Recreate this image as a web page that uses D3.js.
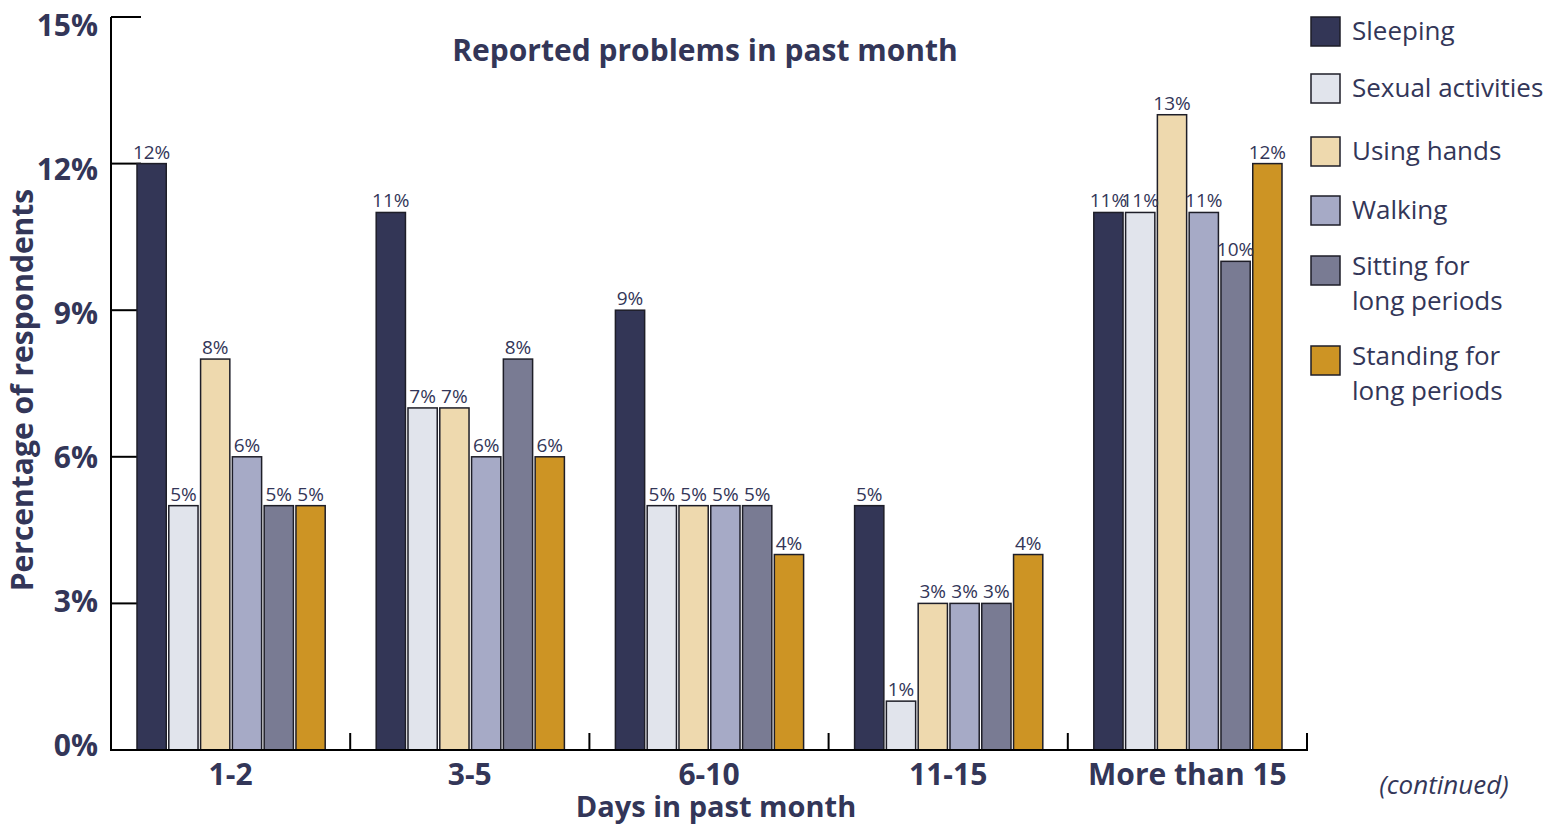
<!DOCTYPE html>
<html>
<head>
<meta charset="utf-8">
<script src="https://cdn.jsdelivr.net/npm/d3@7"></script>
<style>
  body { margin: 0; background: #fff; }
  svg { display: block; font-family: "Open Sans", sans-serif; }
</style>
</head>
<body>
<svg id="chart" width="1560" height="824"></svg>
<script>
// categories on the x axis
var categories = ["1-2", "3-5", "6-10", "11-15", "More than 15"];
// legend series
var series = ["Sleeping", "Sexual activities", "Using hands", "Walking", "Sitting for long periods", "Standing for long periods"];
var seriesLines = [["Sleeping"], ["Sexual activities"], ["Using hands"], ["Walking"], ["Sitting for", "long periods"], ["Standing for", "long periods"]];
var colors = ["#333656", "#e1e4ec", "#eed9ae", "#a6aac6", "#797b93", "#cd9424"];
// values per series (percent), one per category
var sleeping = [12, 11, 9, 5, 11];
var sexual = [5, 7, 5, 1, 11];
var hands = [8, 7, 5, 3, 13];
var walking = [6, 6, 5, 3, 11];
var sitting = [5, 8, 5, 3, 10];
var standing = [5, 6, 4, 4, 12];
var yTicks = [0, 3, 6, 9, 12, 15];

var values = [sleeping, sexual, hands, walking, sitting, standing];
var ink = "#333658";

var svg = d3.select("#chart");

var x0 = d3.scaleBand().domain(categories).range([111, 1307]);
var x1 = d3.scaleBand().domain(series).range([26, x0.bandwidth() - 25]).paddingInner(0.08);
var y = d3.scaleLinear().domain([0, 15]).range([750, 17]);
// tick labels sit slightly inside the axis ends
var yLab = d3.scaleLinear().domain([0, 15]).range([745, 25]);

// y ticks, drawn inward, under the bars
svg.append("g").selectAll("line")
  .data(yTicks.filter(function(d){ return d > 0; }))
  .enter().append("line")
  .attr("x1", 111).attr("x2", 141)
  .attr("y1", function(d){ return y(d); }).attr("y2", function(d){ return y(d); })
  .attr("stroke", "#000").attr("stroke-width", 2);

// y tick labels
svg.append("g").selectAll("text")
  .data(yTicks)
  .enter().append("text")
  .attr("x", 98)
  .attr("y", function(d){ return yLab(d); })
  .attr("dy", "0.35em")
  .attr("text-anchor", "end")
  .attr("font-size", 30)
  .attr("font-weight", "bold")
  .attr("fill", ink)
  .text(function(d){ return d + "%"; });

// bars
var groups = svg.append("g").selectAll("g")
  .data(categories)
  .enter().append("g")
  .attr("transform", function(d){ return "translate(" + x0(d) + ",0)"; });

function rows(c, ci) {
  return series.map(function(s, si){ return {s: s, si: si, v: values[si][ci]}; });
}

groups.selectAll("rect")
  .data(rows)
  .enter().append("rect")
  .attr("x", function(d){ return x1(d.s); })
  .attr("width", x1.bandwidth())
  .attr("y", function(d){ return y(d.v); })
  .attr("height", function(d){ return y(0) - y(d.v); })
  .attr("fill", function(d){ return colors[d.si]; })
  .attr("stroke", "#1e1e28")
  .attr("stroke-width", 1.5);

groups.selectAll("text")
  .data(rows)
  .enter().append("text")
  .attr("x", function(d){ return x1(d.s) + x1.bandwidth() / 2; })
  .attr("y", function(d){ return y(d.v) - 5; })
  .attr("text-anchor", "middle")
  .attr("font-size", 19)
  .attr("fill", ink)
  .text(function(d){ return d.v + "%"; });

// axes lines
svg.append("line")
  .attr("x1", 111).attr("x2", 111).attr("y1", 17).attr("y2", 751)
  .attr("stroke", "#000").attr("stroke-width", 2);
svg.append("line")
  .attr("x1", 110).attr("x2", 1308).attr("y1", 750).attr("y2", 750)
  .attr("stroke", "#000").attr("stroke-width", 2);

// x ticks at category boundaries
svg.append("g").selectAll("line")
  .data(categories)
  .enter().append("line")
  .attr("x1", function(d){ return x0(d) + x0.bandwidth(); })
  .attr("x2", function(d){ return x0(d) + x0.bandwidth(); })
  .attr("y1", 733).attr("y2", 750)
  .attr("stroke", "#000").attr("stroke-width", 2);

// x labels
svg.append("g").selectAll("text")
  .data(categories)
  .enter().append("text")
  .attr("x", function(d){ return x0(d) + x0.bandwidth() / 2; })
  .attr("y", 774)
  .attr("dy", "0.35em")
  .attr("text-anchor", "middle")
  .attr("font-size", 30)
  .attr("font-weight", "bold")
  .attr("fill", ink)
  .text(function(d){ return d; });

svg.append("text")
  .attr("x", 716).attr("y", 807).attr("dy", "0.35em")
  .attr("text-anchor", "middle")
  .attr("font-size", 29).attr("font-weight", "bold").attr("fill", ink)
  .text("Days in past month");

svg.append("text")
  .attr("transform", "translate(22,390) rotate(-90)")
  .attr("dy", "0.35em")
  .attr("text-anchor", "middle")
  .attr("font-size", 30).attr("font-weight", "bold").attr("fill", ink)
  .text("Percentage of respondents");

svg.append("text")
  .attr("x", 705).attr("y", 50).attr("dy", "0.35em")
  .attr("text-anchor", "middle")
  .attr("font-size", 30).attr("font-weight", "bold").attr("fill", ink)
  .text("Reported problems in past month");

svg.append("text")
  .attr("x", 1444).attr("y", 785).attr("dy", "0.35em")
  .attr("text-anchor", "middle")
  .attr("font-size", 26).attr("font-style", "italic").attr("fill", ink)
  .text("(continued)");

// legend
var legendTop = [17, 74, 137, 196, 256, 346];
var legend = svg.append("g").selectAll("g")
  .data(series)
  .enter().append("g")
  .attr("transform", function(d, i){ return "translate(1311," + legendTop[i] + ")"; });

legend.append("rect")
  .attr("width", 29).attr("height", 29)
  .attr("fill", function(d, i){ return colors[i]; })
  .attr("stroke", "#1e1e28").attr("stroke-width", 1.5);

legend.each(function(d, i){
  var g = d3.select(this);
  seriesLines[i].forEach(function(line, li){
    g.append("text")
      .attr("x", 41)
      .attr("y", (seriesLines[i].length > 1 ? 10 : 14) + li * 35)
      .attr("dy", "0.35em")
      .attr("font-size", 26)
      .attr("fill", ink)
      .text(line);
  });
});
</script>
</body>
</html>
